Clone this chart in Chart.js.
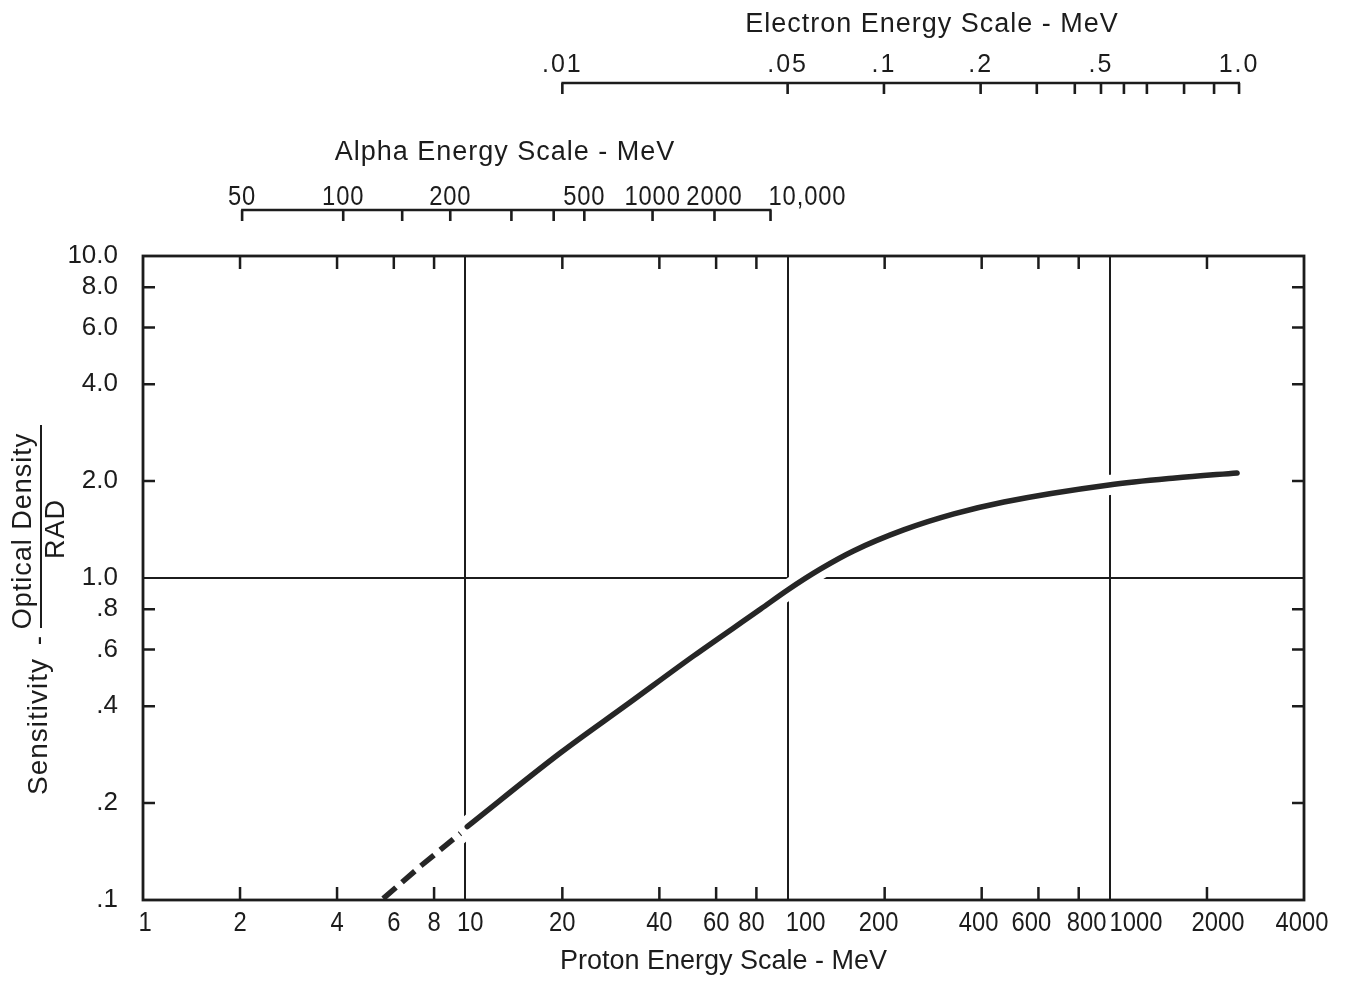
<!DOCTYPE html>
<html>
<head>
<meta charset="utf-8">
<script src="https://cdn.jsdelivr.net/npm/chart.js@4.4.1/dist/chart.umd.min.js"></script>
<style>
html,body{margin:0;padding:0;background:#ffffff;}
#wrap{width:1348px;height:981px;}
</style>
</head>
<body>
<div id="wrap"><canvas id="c" width="1348" height="981"></canvas></div>
<script>
// ---------- data ----------
const protonTicks = [1, 2, 4, 6, 8, 10, 20, 40, 60, 80, 100, 200, 400, 600, 800, 1000, 2000, 4000];
const protonTickLabels = ['1', '2', '4', '6', '8', '10', '20', '40', '60', '80', '100', '200', '400', '600', '800', '1000', '2000', '4000'];
const protonGridLines = [10, 100, 1000];

const sensTicks = [0.1, 0.2, 0.4, 0.6, 0.8, 1, 2, 4, 6, 8, 10];
const sensTickLabels = ['.1', '.2', '.4', '.6', '.8', '1.0', '2.0', '4.0', '6.0', '8.0', '10.0'];
const sensGridLines = [1];

// extrapolated (dashed) part of the curve
const dashedProton = [5.56, 7.3, 9.65];
const dashedSens = [0.101, 0.128, 0.161];
// measured (solid) part of the curve
const solidProton = [10.14, 19.7, 31.9, 51.1, 82.5, 100, 126.6, 160, 229, 328, 469, 993, 1592, 2480];
const solidSens = [0.169, 0.286, 0.406, 0.573, 0.801, 0.918, 1.067, 1.213, 1.41, 1.581, 1.722, 1.945, 2.044, 2.119];

// auxiliary energy scales, positioned by their proton-equivalent energy (MeV)
const alphaTickProton = [2.03, 4.18, 6.37, 8.98, 13.9, 18.8, 23.4, 38.1, 59.3, 88.5];
const alphaTickLabels = ['50', '100', '', '200', '', '', '500', '1000', '2000', '10,000'];
const electronTickProton = [20.0, 100, 199, 397, 593, 778, 938, 1105, 1302, 1698, 2104, 2515];
const electronTickLabels = ['.01', '.05', '.1', '.2', '', '', '.5', '', '', '', '', '1.0'];

const xTitle = 'Proton Energy Scale - MeV';
const alphaTitle = 'Alpha Energy Scale - MeV';
const electronTitle = 'Electron Energy Scale - MeV';
const yTitleMain = 'Sensitivity';
const yTitleNum = 'Optical Density';
const yTitleDen = 'RAD';

// ---------- style ----------
const INK = '#1c1c1c';
const FAM = "'Liberation Sans', Arial, Helvetica, sans-serif";
const TICK_LEN = 13;
const NARROW_SX = 0.85;                    // horizontal squeeze for the tall narrow numerals
// small typographic nudges of crowded bottom labels (px), as lettered on the original
const X_LABEL_NUDGE = {'1': 2, '10': 5, '80': -5, '100': 18, '200': -6, '400': -3, '600': -7, '800': 8, '1000': 26, '2000': 11, '4000': -2};
const LEFT_ALIGNED_AUX_LABELS = ['10,000'];

const pts = (xs, ys) => xs.map((v, i) => ({x: v, y: ys[i]}));

function narrowText(ctx, t, x, y, align, sx) {
  ctx.save();
  ctx.translate(x, y);
  ctx.scale(sx, 1);
  ctx.textAlign = align;
  ctx.fillText(t, 0, 0);
  ctx.restore();
}

const decor = {
  id: 'decor',
  beforeDatasetsDraw(chart) {
    const {ctx, chartArea: a, scales: {x, y}} = chart;
    ctx.save();
    ctx.strokeStyle = INK;
    ctx.lineWidth = 2.5;
    ctx.beginPath();
    protonTicks.forEach(v => {
      if (v <= x.min || v >= x.max || protonGridLines.includes(v)) return;
      const px = x.getPixelForValue(v);
      ctx.moveTo(px, a.bottom); ctx.lineTo(px, a.bottom - TICK_LEN);
      ctx.moveTo(px, a.top); ctx.lineTo(px, a.top + TICK_LEN);
    });
    sensTicks.forEach(v => {
      if (v <= y.min || v >= y.max || sensGridLines.includes(v)) return;
      const py = y.getPixelForValue(v);
      ctx.moveTo(a.left, py); ctx.lineTo(a.left + TICK_LEN - 1, py);
      ctx.moveTo(a.right, py); ctx.lineTo(a.right - TICK_LEN + 1, py);
    });
    ctx.stroke();
    ctx.restore();
  },
  afterDatasetsDraw(chart) {
    const {ctx, chartArea: a} = chart;
    ctx.save();
    ctx.strokeStyle = INK;
    ctx.lineWidth = 2.8;
    ctx.strokeRect(a.left, a.top, a.right - a.left, a.bottom - a.top);
    ctx.restore();
  },
  afterDraw(chart) {
    const {ctx, chartArea: a, scales: {x}} = chart;
    ctx.save();
    ctx.fillStyle = INK;
    ctx.strokeStyle = INK;

    // proton tick labels (bottom axis), positioned by the x scale
    ctx.font = '28px ' + FAM;
    ctx.textBaseline = 'alphabetic';
    protonTicks.forEach((v, i) => {
      const t = protonTickLabels[i];
      const px = x.getPixelForValue(v) + (X_LABEL_NUDGE[t] || 0);
      narrowText(ctx, t, px, a.bottom + 31, 'center', NARROW_SX);
    });

    const drawAux = (vals, labels, lineY, labelBase, font, sx) => {
      const first = x.getPixelForValue(vals[0]);
      const last = x.getPixelForValue(vals[vals.length - 1]);
      ctx.lineWidth = 2.6;
      ctx.beginPath();
      ctx.moveTo(first - 1, lineY); ctx.lineTo(last + 1, lineY);
      vals.forEach(v => {
        const px = x.getPixelForValue(v);
        ctx.moveTo(px, lineY); ctx.lineTo(px, lineY + 11);
      });
      ctx.stroke();
      ctx.font = font;
      ctx.textBaseline = 'alphabetic';
      vals.forEach((v, i) => {
        const t = labels[i];
        if (!t) return;
        const px = x.getPixelForValue(v);
        if (LEFT_ALIGNED_AUX_LABELS.includes(t)) narrowText(ctx, t, px - 2, labelBase, 'left', sx);
        else narrowText(ctx, t, px, labelBase, 'center', sx);
      });
    };

    // alpha scale
    ctx.letterSpacing = '1px';
    drawAux(alphaTickProton, alphaTickLabels, a.top - 46, a.top - 51, '28px ' + FAM, NARROW_SX);
    // electron scale
    ctx.letterSpacing = '2px';
    drawAux(electronTickProton, electronTickLabels, a.top - 173, a.top - 184, '25px ' + FAM, 1);

    ctx.letterSpacing = '1px';
    ctx.font = '27px ' + FAM;
    ctx.textAlign = 'center';
    ctx.textBaseline = 'middle';
    ctx.fillText(alphaTitle, 505, a.top - 103);
    ctx.fillText(electronTitle, 932, a.top - 231);

    // y title: Sensitivity - Optical Density / RAD
    const rot = (cx, cy, fn) => { ctx.save(); ctx.translate(cx, cy); ctx.rotate(-Math.PI / 2); fn(); ctx.restore(); };
    ctx.font = '28px ' + FAM;
    rot(39, 795, () => {
      ctx.textAlign = 'left';
      ctx.fillText(yTitleMain, 0, 0);
      ctx.textAlign = 'center';
      ctx.fillText('-', 155, 0);
    });
    ctx.font = '27px ' + FAM;
    rot(24, 531, () => { ctx.textAlign = 'center'; ctx.fillText(yTitleNum, 0, 0); });
    rot(57, 529, () => { ctx.textAlign = 'center'; ctx.fillText(yTitleDen, 0, 0); });
    ctx.lineWidth = 2;
    ctx.beginPath(); ctx.moveTo(41, 425); ctx.lineTo(41, 628); ctx.stroke();
    ctx.restore();
  }
};

new Chart(document.getElementById('c'), {
  type: 'line',
  data: {
    datasets: [
      {
        label: 'solid',
        data: pts(solidProton, solidSens),
        borderColor: '#262626', borderWidth: 5.5, pointRadius: 0,
        cubicInterpolationMode: 'monotone', borderCapStyle: 'round', order: 0
      },
      {
        label: 'dashed',
        data: pts(dashedProton, dashedSens),
        borderColor: '#262626', borderWidth: 5.5, pointRadius: 0,
        borderDash: [17, 8], borderCapStyle: 'butt', order: 1
      },
      {
        label: 'halo',
        data: pts(dashedProton.concat(solidProton), dashedSens.concat(solidSens)),
        borderColor: '#ffffff', borderWidth: 20, pointRadius: 0,
        cubicInterpolationMode: 'monotone', clip: 0, order: 10
      }
    ]
  },
  options: {
    responsive: false,
    animation: false,
    devicePixelRatio: 1,
    layout: {padding: {top: 256, right: 44, left: 0, bottom: 0}},
    plugins: {legend: {display: false}, tooltip: {enabled: false}, title: {display: false}},
    scales: {
      x: {
        type: 'logarithmic', min: 1, max: 4000, position: 'bottom',
        afterBuildTicks: s => { s.ticks = protonTicks.map(v => ({value: v})); },
        afterFit: s => { s.height = 81; },
        ticks: {
          display: false, autoSkip: false, maxRotation: 0,
          callback: v => protonTickLabels[protonTicks.indexOf(v)]
        },
        grid: {
          drawTicks: false, lineWidth: 2,
          color: c => (c.tick && protonGridLines.includes(c.tick.value)) ? INK : 'rgba(0,0,0,0)'
        },
        border: {display: false},
        title: {display: true, text: xTitle, color: INK, font: {family: FAM, size: 27}, padding: {top: 0, bottom: 3}}
      },
      y: {
        type: 'logarithmic', min: 0.1, max: 10, position: 'left',
        afterBuildTicks: s => { s.ticks = sensTicks.map(v => ({value: v})); },
        afterFit: s => { s.width = 143; },
        ticks: {
          autoSkip: false, padding: 25, color: INK, font: {family: FAM, size: 26},
          callback: v => sensTickLabels[sensTicks.indexOf(v)]
        },
        grid: {
          drawTicks: false, lineWidth: 2,
          color: c => (c.tick && sensGridLines.includes(c.tick.value)) ? INK : 'rgba(0,0,0,0)'
        },
        border: {display: false}
      }
    }
  },
  plugins: [decor]
});
</script>
</body>
</html>
